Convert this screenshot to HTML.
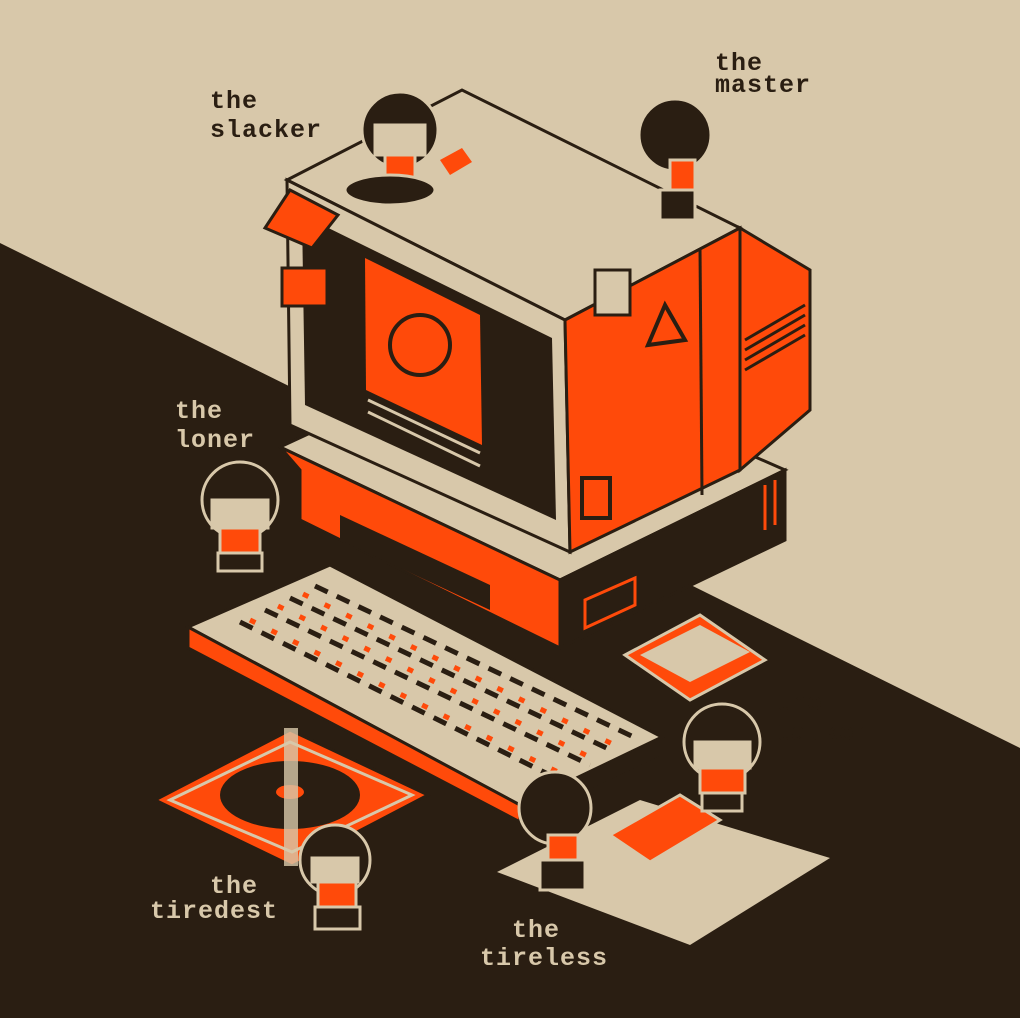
<!DOCTYPE html>
<html><head><meta charset="utf-8"><style>
html,body{margin:0;padding:0;background:#d8c8aa;}
svg{display:block}
text{font-family:"Liberation Mono",monospace;font-weight:bold;font-size:25px;letter-spacing:1px}
</style></head><body>
<svg width="1020" height="1018" viewBox="0 0 1020 1018" xmlns="http://www.w3.org/2000/svg">
<rect width="1020" height="1018" fill="#d8c8aa"/>
<polygon points="0,243 1020,748 1020,1018 0,1018" fill="#2a1e12"/>

<!-- floor mat -->
<polygon points="497,872 640,800 830,858 690,945" fill="#d8c8aa"/>
<!-- disk case -->
<polygon points="155,800 290,730 428,795 292,866" fill="#ff4a0a" stroke="#2a1e12" stroke-width="3"/>
<polygon points="170,800 290,742 412,795 292,852" fill="none" stroke="#d8c8aa" stroke-width="3"/>
<ellipse cx="290" cy="795" rx="70" ry="34" fill="#2a1e12"/>
<ellipse cx="290" cy="792" rx="14" ry="7" fill="#ff4a0a"/>
<polygon points="284,728 298,728 298,866 284,866" fill="#d8c8aa" opacity="0.8"/>

<!-- keyboard -->
<polygon points="188,627 330,565 662,737 520,805" fill="#d8c8aa" stroke="#2a1e12" stroke-width="3"/>
<polygon points="188,627 520,805 520,822 188,648" fill="#ff4a0a" stroke="#2a1e12" stroke-width="3"/>
<polygon points="520,805 662,737 662,755 520,822" fill="#2a1e12"/>
<g stroke-width="5" stroke-linecap="butt">
<g stroke="#2a1e12">
<line x1="240" y1="622" x2="560" y2="780" stroke-dasharray="14 10"/>
<line x1="265" y1="610" x2="590" y2="765" stroke-dasharray="14 10"/>
<line x1="290" y1="598" x2="615" y2="752" stroke-dasharray="14 10"/>
<line x1="315" y1="586" x2="640" y2="740" stroke-dasharray="14 10"/>
</g>
<g stroke="#ff4a0a">
<line x1="250" y1="620" x2="570" y2="778" stroke-dasharray="6 18"/>
<line x1="278" y1="606" x2="600" y2="762" stroke-dasharray="6 18"/>
<line x1="303" y1="594" x2="625" y2="750" stroke-dasharray="6 18"/>
</g>
</g>

<!-- base unit -->
<polygon points="280,447 500,345 785,470 560,580" fill="#d8c8aa" stroke="#2a1e12" stroke-width="3"/>
<polygon points="280,447 560,580 560,648 300,520 300,470" fill="#ff4a0a" stroke="#2a1e12" stroke-width="3"/>
<polygon points="560,580 785,470 785,540 560,648" fill="#2a1e12" stroke="#2a1e12" stroke-width="3"/>
<polygon points="340,515 490,585 490,610 340,540" fill="#2a1e12"/>
<polygon points="585,600 635,578 635,605 585,628" fill="#2a1e12" stroke="#ff4a0a" stroke-width="3"/>
<g stroke="#ff4a0a" stroke-width="3"><line x1="765" y1="485" x2="765" y2="530"/><line x1="775" y1="480" x2="775" y2="525"/></g>

<!-- monitor -->
<polygon points="287,180 462,90 740,228 565,320" fill="#d8c8aa" stroke="#2a1e12" stroke-width="3"/>
<polygon points="287,180 565,320 570,552 290,425" fill="#d8c8aa" stroke="#2a1e12" stroke-width="3"/>
<polygon points="302,215 552,338 556,520 305,405" fill="#2a1e12"/>
<polygon points="365,258 480,315 482,445 366,390" fill="#ff4a0a"/>
<circle cx="420" cy="345" r="30" fill="none" stroke="#2a1e12" stroke-width="4"/>
<g stroke="#d8c8aa" stroke-width="3"><line x1="368" y1="400" x2="480" y2="453"/><line x1="368" y1="412" x2="480" y2="466"/></g>
<polygon points="565,320 740,228 740,470 570,552" fill="#ff4a0a" stroke="#2a1e12" stroke-width="3"/>
<polygon points="740,228 810,270 810,410 740,470" fill="#ff4a0a" stroke="#2a1e12" stroke-width="3"/>
<g stroke="#2a1e12" stroke-width="3"><line x1="700" y1="248" x2="702" y2="495"/><line x1="745" y1="340" x2="805" y2="305"/><line x1="745" y1="350" x2="805" y2="315"/><line x1="745" y1="360" x2="805" y2="325"/><line x1="745" y1="370" x2="805" y2="335"/></g>
<polygon points="665,305 648,345 685,340" fill="none" stroke="#2a1e12" stroke-width="4"/>
<rect x="582" y="478" width="28" height="40" fill="none" stroke="#2a1e12" stroke-width="4"/>
<rect x="595" y="270" width="35" height="45" fill="#d8c8aa" stroke="#2a1e12" stroke-width="3"/>
<!-- sticky notes -->
<polygon points="265,228 290,190 338,215 312,248" fill="#ff4a0a" stroke="#2a1e12" stroke-width="3"/>
<rect x="282" y="268" width="45" height="38" fill="#ff4a0a" stroke="#2a1e12" stroke-width="3"/>
<polygon points="440,160 462,148 472,162 450,175" fill="#ff4a0a"/>

<!-- calculator device -->
<polygon points="625,655 700,615 765,660 690,700" fill="#ff4a0a" stroke="#d8c8aa" stroke-width="3"/>
<polygon points="640,655 700,625 750,652 690,682" fill="#d8c8aa"/>
<!-- orange box near tireless -->
<polygon points="610,835 680,795 720,820 650,862" fill="#ff4a0a" stroke="#d8c8aa" stroke-width="3"/>

<!-- characters -->
<g stroke="#d8c8aa" stroke-width="3">
<!-- slacker -->
<circle cx="400" cy="130" r="38" fill="#2a1e12"/>
<rect x="375" y="125" width="50" height="30" fill="#d8c8aa"/>
<rect x="385" y="155" width="30" height="25" fill="#ff4a0a"/>
<ellipse cx="390" cy="190" rx="45" ry="15" fill="#2a1e12"/>
<!-- master -->
<circle cx="675" cy="135" r="36" fill="#2a1e12"/>
<rect x="670" y="160" width="25" height="30" fill="#ff4a0a"/>
<rect x="660" y="190" width="35" height="30" fill="#2a1e12"/>
<!-- loner -->
<circle cx="240" cy="500" r="38" fill="#2a1e12"/>
<rect x="212" y="500" width="56" height="28" fill="#d8c8aa"/>
<rect x="220" y="528" width="40" height="25" fill="#ff4a0a"/>
<rect x="218" y="553" width="44" height="18" fill="#2a1e12"/>
<!-- talker -->
<circle cx="722" cy="742" r="38" fill="#2a1e12"/>
<rect x="695" y="742" width="55" height="26" fill="#d8c8aa"/>
<rect x="700" y="768" width="45" height="25" fill="#ff4a0a"/>
<rect x="702" y="793" width="40" height="18" fill="#2a1e12"/>
<!-- tireless -->
<circle cx="555" cy="808" r="36" fill="#2a1e12"/>
<rect x="548" y="835" width="30" height="25" fill="#ff4a0a"/>
<rect x="540" y="860" width="45" height="30" fill="#2a1e12"/>
<!-- tiredest -->
<circle cx="335" cy="860" r="35" fill="#2a1e12"/>
<rect x="312" y="858" width="46" height="24" fill="#d8c8aa"/>
<rect x="318" y="882" width="38" height="25" fill="#ff4a0a"/>
<rect x="315" y="907" width="45" height="22" fill="#2a1e12"/>
</g>

<!-- labels -->
<g fill="#2a1e12">
<text x="210" y="108">the</text><text x="210" y="137">slacker</text>
<text x="715" y="70">the</text><text x="715" y="92">master</text>
<text x="775" y="710">the</text><text x="775" y="740">talker</text>
</g>
<g fill="#d8c8aa">
<text x="175" y="418">the</text><text x="175" y="447">loner</text>
<text x="210" y="893">the</text><text x="150" y="918">tiredest</text>
<text x="512" y="937">the</text><text x="480" y="965">tireless</text>
</g>
</svg>
</body></html>
